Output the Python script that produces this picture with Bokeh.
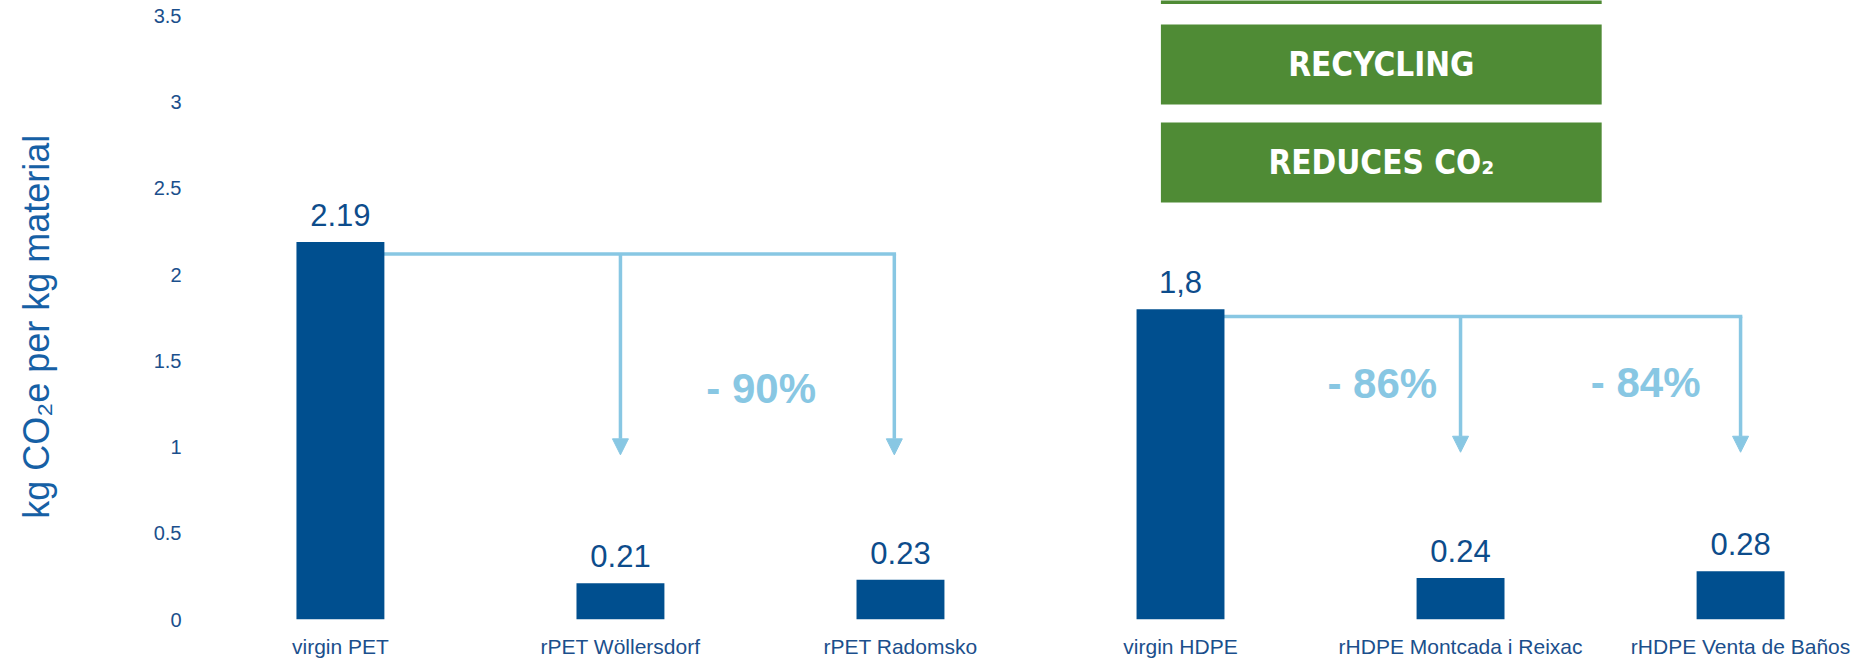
import math
from bokeh.plotting import figure
from bokeh.layouts import row
from bokeh.models import FixedTicker, Arrow, NormalHead, ColumnDataSource
from bokeh.core.properties import value
from bokeh.embed import file_html
from bokeh.resources import INLINE

# ---------------- data ----------------
categories = ["virgin PET", "rPET Wöllersdorf", "rPET Radomsko",
              "virgin HDPE", "rHDPE Montcada i Reixac", "rHDPE Venta de Baños"]
emissions = [2.19, 0.21, 0.23, 1.8, 0.24, 0.28]
value_labels = ["2.19", "0.21", "0.23", "1,8", "0.24", "0.28"]

y_ticks = [0, 0.5, 1, 1.5, 2, 2.5, 3, 3.5]
y_tick_labels = ["0", "0.5", "1", "1.5", "2", "2.5", "3", "3.5"]
y_title = "kg CO₂e per  kg material"

# reduction annotations (text centres)
reduction_labels = ["- 90%", "- 86%", "- 84%"]
reduction_x = [1.5025, 3.7206, 4.661]
reduction_y = [1.340, 1.369, 1.375]

# connector groups: (source bar index, connector level, arrow targets)
group_source = [0, 3]
group_level = [2.12, 1.757]
arrow_x = [[1.0, 1.978], [4.0, 5.0]]
arrow_tip = [[0.955, 0.955], [0.97, 0.97]]

# banner boxes (the top one is cut off by the chart edge)
banner_texts = ["", "RECYCLING", "REDUCES CO₂"]
banner_left = [2.930, 2.930, 2.930]
banner_right = [4.504, 4.504, 4.504]
banner_top = [3.75, 3.451, 2.883]
banner_bottom = [3.570, 2.987, 2.419]

# ---------------- style ----------------
BAR = "#004F8F"
TXT = "#0D4C8B"
TICK = "#1B4F8C"
YLAB = "#1660A5"
LIGHT = "#88C7E3"
GREEN = "#4F8B35"
FONT = "Liberation Sans"
BANNER_FONT = "'DejaVu Sans Condensed', 'Liberation Sans', sans-serif"
BAR_W = 0.314

TITLE_W = 150
W, H = 1859, 661

x_idx = list(range(len(categories)))

# --- narrow strip holding the rotated y-axis title ---
t = figure(width=TITLE_W, height=H, x_range=(0, TITLE_W), y_range=(0, H),
           output_backend="svg", toolbar_location=None, min_border=0)
t.axis.visible = False
t.grid.visible = False
t.outline_line_color = None
t.text(x=[36], y=[H - 343], text=[y_title], angle=math.pi / 2,
       text_align="center", text_baseline="middle", text_color=YLAB,
       text_font=value(FONT), text_font_size="36px")

# --- main chart ---
p = figure(width=W - TITLE_W, height=H,
           x_range=(-0.5318, 5.4247), y_range=(0, 3.59),
           output_backend="svg", toolbar_location=None,
           min_border_left=190 - TITLE_W, min_border_right=0,
           min_border_top=0, min_border_bottom=42)

p.outline_line_color = None
p.grid.visible = False
p.background_fill_color = "white"
p.border_fill_color = "white"

# connectors (horizontal lines) drawn before bars
for src, lvl, xs in zip(group_source, group_level, arrow_x):
    start = x_idx[src] + BAR_W / 2
    p.line(x=[start, xs[-1]], y=[lvl, lvl], line_color=LIGHT,
           line_width=3.5, line_cap="square")

# bars
src_bars = ColumnDataSource(dict(x=x_idx, top=emissions, lab=value_labels))
p.vbar(x="x", top="top", bottom=0, width=BAR_W, source=src_bars,
       fill_color=BAR, line_color=None)

# value labels
p.text(x="x", y="top", text="lab", source=src_bars, text_align="center",
       text_baseline="middle", y_offset=-27, text_color=TXT,
       text_font=value(FONT), text_font_size="31px")

# arrows
for lvl, xs, tips in zip(group_level, arrow_x, arrow_tip):
    for xa, ya in zip(xs, tips):
        p.add_layout(Arrow(end=NormalHead(size=16, fill_color=LIGHT,
                                          line_color=LIGHT, line_width=1),
                           x_start=xa, y_start=lvl, x_end=xa, y_end=ya,
                           line_color=LIGHT, line_width=3.5))

# reduction labels
p.text(x=reduction_x, y=reduction_y, text=reduction_labels,
       text_align="center", text_baseline="middle",
       text_color=LIGHT, text_font=value(FONT), text_font_style="bold",
       text_font_size="42px")

# banner boxes
p.quad(left=banner_left, right=banner_right, top=banner_top,
       bottom=banner_bottom, fill_color=GREEN, line_color=None)
bx = [(l + r) / 2 for l, r in zip(banner_left, banner_right)]
by = [(tp + b) / 2 for tp, b in zip(banner_top, banner_bottom)]
p.text(x=bx, y=by, text=banner_texts, text_align="center",
       text_baseline="middle", text_color="white",
       text_font=value(BANNER_FONT), text_font_style="bold",
       text_font_size="33px")

# axes
p.xaxis.ticker = FixedTicker(ticks=x_idx)
p.xaxis.major_label_overrides = {i: c for i, c in zip(x_idx, categories)}
p.yaxis.ticker = FixedTicker(ticks=y_ticks)
p.yaxis.major_label_overrides = {tk: l for tk, l in zip(y_ticks, y_tick_labels)}

for ax in (p.xaxis, p.yaxis):
    ax.axis_line_color = None
    ax.major_tick_line_color = None
    ax.minor_tick_line_color = None
    ax.major_tick_out = 0
    ax.major_tick_in = 0
    ax.major_label_text_font = FONT

p.xaxis.major_label_text_font_size = "21px"
p.xaxis.major_label_text_color = TICK
p.xaxis.major_label_standoff = 15
p.yaxis.major_label_text_font_size = "20px"
p.yaxis.major_label_text_color = TICK
p.yaxis.major_label_standoff = 10

layout = row(t, p)
open("out.html", "w").write(file_html(layout, INLINE))
